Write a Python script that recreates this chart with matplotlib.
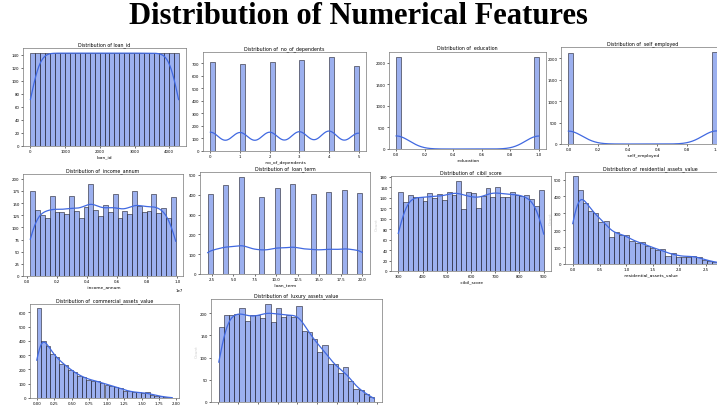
import numpy as np
import matplotlib
matplotlib.use("Agg")
import matplotlib.pyplot as plt
from matplotlib.ticker import MultipleLocator

# ---------------- data ----------------
loan_id_range = (1, 4269)
loan_id_counts = [143, 142, 142, 142, 143, 142, 142, 142, 143, 142,
                  142, 142, 143, 142, 142, 142, 143, 142, 142, 142,
                  143, 142, 142, 142, 143, 142, 142, 142, 143, 142]

dependents_values = [0, 1, 2, 3, 4, 5]
dependents_counts = [712, 697, 708, 727, 752, 675]

education_values = [0, 1]
education_counts = [2144, 2125]

self_employed_values = [0, 1]
self_employed_counts = [2119, 2150]

income_range = (200000, 9900000)
income_counts = [174, 135, 126, 119, 164, 131, 131, 128, 164, 133,
                 120, 142, 189, 136, 123, 147, 131, 169, 119, 133,
                 128, 175, 145, 131, 133, 169, 129, 140, 119, 162]

loan_term_values = [2, 4, 6, 8, 10, 12, 14, 16, 18, 20]
loan_term_counts = [404, 447, 490, 386, 436, 456, 405, 412, 422, 411]

cibil_range = (300, 900)
cibil_counts = [152, 132, 146, 141, 141, 134, 150, 139, 148, 135,
                151, 146, 173, 119, 152, 150, 121, 144, 158, 142,
                161, 142, 142, 152, 146, 143, 145, 137, 124, 154]

residential_range = (-100000, 29100000)
residential_counts = [519, 440, 359, 311, 305, 247, 257, 162, 189, 174,
                      174, 135, 127, 131, 104, 97, 85, 89, 50, 66,
                      44, 44, 44, 50, 39, 25, 19, 12, 6, 4]

commercial_range = (0, 19400000)
commercial_counts = [628, 398, 365, 306, 287, 240, 233, 193, 181, 153,
                     146, 129, 122, 118, 106, 94, 87, 75, 73, 52,
                     47, 40, 40, 33, 42, 21, 16, 12, 7, 2]

luxury_range = (300000, 39200000)
luxury_counts = [168, 195, 195, 198, 211, 183, 195, 195, 189, 221,
                 181, 211, 191, 195, 191, 217, 160, 158, 142, 113,
                 129, 85, 86, 65, 78, 48, 29, 27, 19, 11]

BINS = 30

# ---------------- figure ----------------
W, H = 717, 406
fig = plt.figure(figsize=(W / 100, H / 100), dpi=100)
fig.patch.set_facecolor("white")

BAR_FC = (0.255, 0.412, 0.882, 0.52)   # royalblue, semi-transparent
BAR_EC = (0.15, 0.15, 0.2, 0.85)
KDE_C = "royalblue"
TICK_FS = 2.8
TITLE_FS = 3.4
LABEL_FS = 3.2


def add_ax(l, t, r, b):
    return fig.add_axes([l / W, 1 - b / H, (r - l) / W, (b - t) / H])


def kde_curve(points, weights, lo, hi, binwidth):
    points = np.asarray(points, float)
    w = np.asarray(weights, float)
    n = w.sum()
    mean = np.sum(points * w) / n
    std = np.sqrt(np.sum(w * (points - mean) ** 2) / n)
    bw = std * n ** (-0.2)
    xs = np.linspace(lo, hi, 300)
    dens = np.zeros_like(xs)
    for p, wi in zip(points, w):
        dens += wi * np.exp(-0.5 * ((xs - p) / bw) ** 2)
    dens /= (n * bw * np.sqrt(2 * np.pi))
    return xs, dens * n * binwidth


def style(ax, title, xlabel, xstep, ystep, ylabel=False):
    ax.set_title(title, fontsize=TITLE_FS, pad=2)
    ax.set_xlabel(xlabel, fontsize=LABEL_FS, labelpad=1)
    if ylabel:
        ax.set_ylabel("Count", fontsize=LABEL_FS, color="#d0d0d0", labelpad=1)
    ax.xaxis.set_major_locator(MultipleLocator(xstep))
    ax.yaxis.set_major_locator(MultipleLocator(ystep))
    ax.tick_params(labelsize=TICK_FS, length=1.5, width=0.4, pad=1)
    ax.xaxis.get_offset_text().set_fontsize(TICK_FS)
    for s in ax.spines.values():
        s.set_linewidth(0.5)
        s.set_color("#777777")


def hist_continuous(ax, rng, counts):
    edges = np.linspace(rng[0], rng[1], len(counts) + 1)
    bw = edges[1] - edges[0]
    centers = (edges[:-1] + edges[1:]) / 2
    ax.bar(edges[:-1], counts, width=bw, align="edge",
           facecolor=BAR_FC, edgecolor=BAR_EC, linewidth=0.5)
    xs, ys = kde_curve(centers, counts, rng[0], rng[1], bw)
    ax.plot(xs, ys, color=KDE_C, lw=0.9)


def hist_discrete(ax, values, counts):
    lo, hi = min(values), max(values)
    edges = np.linspace(lo, hi, BINS + 1)
    bw = edges[1] - edges[0]
    binned, _ = np.histogram(values, bins=edges, weights=counts)
    ax.bar(edges[:-1][binned > 0], binned[binned > 0], width=bw, align="edge",
           facecolor=BAR_FC, edgecolor=BAR_EC, linewidth=0.5)
    xs, ys = kde_curve(values, counts, lo, hi, bw)
    ax.plot(xs, ys, color=KDE_C, lw=0.9)


# Row 1
ax = add_ax(23, 49, 186, 147)
hist_continuous(ax, loan_id_range, loan_id_counts)
style(ax, "Distribution of loan_id", "loan_id", 1000, 20)

ax = add_ax(203, 53, 366, 152)
hist_discrete(ax, dependents_values, dependents_counts)
style(ax, "Distribution of  no_of_dependents", " no_of_dependents", 1, 100)

ax = add_ax(389, 53, 546, 150)
hist_discrete(ax, education_values, education_counts)
style(ax, "Distribution of  education", " education", 0.2, 500)

ax = add_ax(561, 48, 724, 145)
hist_discrete(ax, self_employed_values, self_employed_counts)
style(ax, "Distribution of  self_employed", " self_employed", 0.2, 500)

# Row 2
ax = add_ax(23, 175, 183, 277)
hist_continuous(ax, income_range, income_counts)
style(ax, "Distribution of  income_annum", " income_annum", 0.2e7, 25)
ax.set_ylim(0, 210)

ax = add_ax(200, 173, 370, 275)
hist_discrete(ax, loan_term_values, loan_term_counts)
style(ax, "Distribution of  loan_term", " loan_term", 2.5, 100)

ax = add_ax(391, 177, 551, 272)
hist_continuous(ax, cibil_range, cibil_counts)
style(ax, "Distribution of  cibil_score", " cibil_score", 100, 20, ylabel=True)

ax = add_ax(565, 173, 735, 265)
hist_continuous(ax, residential_range, residential_counts)
style(ax, "Distribution of  residential_assets_value", " residential_assets_value",
      0.5e7, 100, ylabel=True)

# Row 3
ax = add_ax(30, 305, 179, 399)
hist_continuous(ax, commercial_range, commercial_counts)
style(ax, "Distribution of  commercial_assets_value", " commercial_assets_value",
      0.25e7, 100)

ax = add_ax(211, 300, 382, 403)
hist_continuous(ax, luxury_range, luxury_counts)
style(ax, "Distribution of  luxury_assets_value", " luxury_assets_value",
      0.5e7, 50, ylabel=True)

fig.text(0.5, 1 - 17 / H, "Distribution of Numerical Features",
         ha="center", va="center", fontsize=22, fontweight="bold",
         family=["Liberation Serif", "DejaVu Serif"])

fig.savefig("out.png", dpi=100)
